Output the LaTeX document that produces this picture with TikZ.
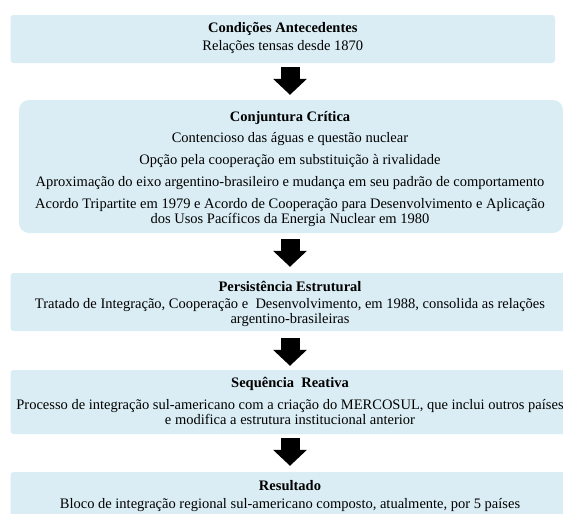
\documentclass[tikz,border=0pt]{standalone}
\usepackage{fontspec}
\setmainfont{Liberation Serif}
\usetikzlibrary{arrows.meta}
\definecolor{boxblue}{HTML}{DAEDF4}
\tikzset{
  box/.style={fill=boxblue, draw=none},
  txt/.style={inner sep=0pt, align=center, font=\fontsize{14.5}{15.5}\selectfont},
  ttl/.style={inner sep=0pt, align=center, font=\fontsize{14.5}{15.5}\selectfont\bfseries},
  bigarrow/.style={draw=black, line width=19pt, -{Triangle[width=33pt,length=16pt]}}
}
\begin{document}
\begin{tikzpicture}[x=1pt,y=-1pt]
\useasboundingbox (0,0) rectangle (563,514);
\clip (0,0) rectangle (563,514);
% boxes
\node[box, rounded corners=3pt, inner sep=0pt, minimum width=544.5pt, minimum height=48pt] (b1) at (282.75,39) {};
\node[box, rounded corners=10pt, inner sep=0pt, minimum width=544pt, minimum height=133pt] (b2) at (291,166.5) {};
\node[box, rounded corners=3pt, inner sep=0pt, minimum width=561.5pt, minimum height=58pt] (b3) at (291.25,302) {};
\node[box, rounded corners=3pt, inner sep=0pt, minimum width=561.5pt, minimum height=64pt] (b4) at (291.25,402) {};
\node[box, rounded corners=3pt, inner sep=0pt, minimum width=561.5pt, minimum height=58pt] (b5) at (291.25,501) {};
% texts
\node[ttl] (t1) at (282.75,29) {Condições Antecedentes};
\node[txt] (t1a) at (282.75,47) {Relações tensas desde 1870};
\node[ttl] (t2) at (290,118) {Conjuntura Crítica};
\node[txt] (t2a) at (290,139) {Contencioso das águas e questão nuclear};
\node[txt] (t2b) at (290,161) {Opção pela cooperação em substituição à rivalidade};
\node[txt] (t2c) at (290,183) {Aproximação do eixo argentino-brasileiro e mudança em seu padrão de comportamento};
\node[txt] (t2d) at (290,212.5) {Acordo Tripartite em 1979 e Acordo de Cooperação para Desenvolvimento e Aplicação\\dos Usos Pacíficos da Energia Nuclear em 1980};
\node[ttl] (t3) at (290,286) {Persistência Estrutural};
\node[txt] (t3a) at (290,312.5) {Tratado de Integração, Cooperação e \ Desenvolvimento, em 1988, consolida as relações\\argentino-brasileiras};
\node[ttl] (t4) at (290,384) {Sequência \ Reativa};
\node[txt] (t4a) at (290,412) {Processo de integração sul-americano com a criação do MERCOSUL, que inclui outros países\\e modifica a estrutura institucional anterior};
\node[ttl] (t5) at (290,486) {Resultado};
\node[txt] (t5a) at (290,505) {Bloco de integração regional sul-americano composto, atualmente, por 5 países};
% arrows
\coordinate (ax) at (290,0);
\draw[bigarrow, shorten <=4pt, shorten >=5pt] (ax |- b1.south) -- (ax |- b2.north);
\draw[bigarrow, shorten <=6pt, shorten >=6pt] (ax |- b2.south) -- (ax |- b3.north);
\draw[bigarrow, shorten <=7pt, shorten >=4pt] (ax |- b3.south) -- (ax |- b4.north);
\draw[bigarrow, shorten <=4pt, shorten >=6pt] (ax |- b4.south) -- (ax |- b5.north);
\end{tikzpicture}
\end{document}
